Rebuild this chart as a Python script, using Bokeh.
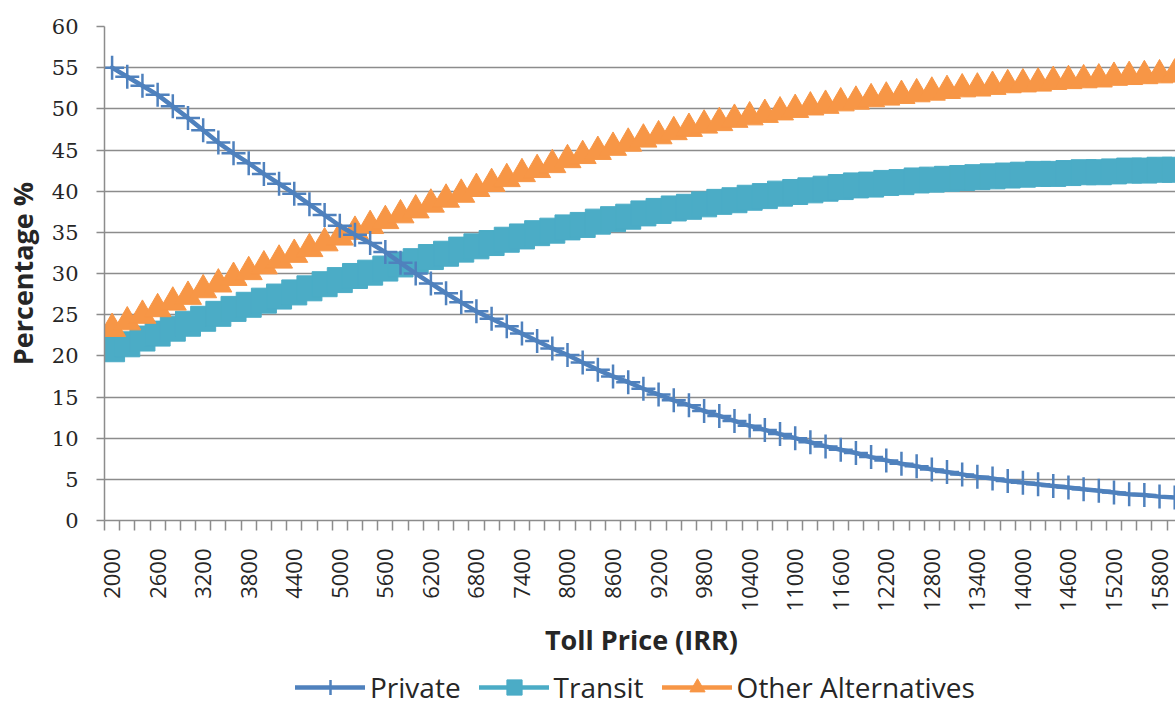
import math

from bokeh.plotting import figure
from bokeh.layouts import column
from bokeh.models import Range1d, FixedTicker, Legend, LegendItem, ColumnDataSource
from bokeh.embed import file_html
from bokeh.resources import INLINE

# Toll price categories (IRR), one every 200
toll_price = list(range(2000, 16001, 200))

# Mode shares (%) for each toll price
private = [
    55.0, 53.9, 52.8, 51.7, 50.3, 48.9, 47.4, 45.9, 44.6, 43.4,
    42.1, 40.9, 39.7, 38.4, 37.1, 35.8, 34.7, 33.7, 32.6, 31.3,
    30.0, 28.8, 27.6, 26.5, 25.4, 24.5, 23.6, 22.7, 21.8, 20.9,
    20.1, 19.2, 18.3, 17.5, 16.8, 16.0, 15.3, 14.6, 14.0, 13.3,
    12.7, 12.1, 11.5, 11.0, 10.5, 10.0, 9.5, 9.0, 8.6, 8.2,
    7.7, 7.3, 6.9, 6.6, 6.2, 5.9, 5.6, 5.3, 5.1, 4.8,
    4.6, 4.4, 4.2, 4.0, 3.8, 3.6, 3.4, 3.2, 3.1, 2.9,
    2.8,
]
transit = [
    20.8, 21.4, 22.1, 22.7, 23.3, 23.9, 24.5, 25.1, 25.7, 26.2,
    26.7, 27.2, 27.7, 28.2, 28.7, 29.2, 29.7, 30.1, 30.6, 31.1,
    31.5, 32.0, 32.4, 32.9, 33.3, 33.7, 34.1, 34.5, 34.9, 35.2,
    35.6, 35.9, 36.3, 36.6, 36.9, 37.3, 37.6, 37.9, 38.1, 38.4,
    38.7, 38.9, 39.2, 39.4, 39.7, 39.9, 40.1, 40.3, 40.5, 40.7,
    40.8, 41.0, 41.1, 41.3, 41.4, 41.5, 41.6, 41.7, 41.8, 41.9,
    42.0, 42.1, 42.1, 42.2, 42.3, 42.3, 42.4, 42.5, 42.5, 42.6,
    42.6,
]
other = [
    23.3, 24.1, 24.9, 25.7, 26.5, 27.2, 28.0, 28.7, 29.5, 30.2,
    30.9, 31.6, 32.3, 33.0, 33.7, 34.4, 35.1, 35.8, 36.4, 37.1,
    37.7, 38.4, 39.0, 39.6, 40.3, 40.9, 41.5, 42.1, 42.6, 43.2,
    43.8, 44.3, 44.8, 45.3, 45.8, 46.3, 46.7, 47.2, 47.6, 48.0,
    48.3, 48.7, 49.0, 49.3, 49.6, 49.9, 50.2, 50.4, 50.7, 50.9,
    51.2, 51.4, 51.6, 51.8, 52.0, 52.2, 52.4, 52.5, 52.7, 52.9,
    53.0, 53.1, 53.3, 53.4, 53.5, 53.6, 53.8, 53.9, 54.0, 54.1,
    54.2,
]
series_names = ["Private", "Transit", "Other Alternatives"]

# Axis ticks
x_label_ticks = list(range(2000, 16000, 600))
x_category_edges = list(range(1900, 16200, 200))
y_ticks = list(range(0, 61, 5))

BLUE = "#4F81BD"
TEAL = "#4BACC6"
ORANGE = "#F79646"
GRID = "#8C8C8C"
TEXT = "#262626"

src = ColumnDataSource(dict(price=toll_price, private=private,
                            transit=transit, other=other))

fig = figure(frame_width=1074, frame_height=494,
             x_range=Range1d(1900, 16050), y_range=Range1d(0, 60),
             output_backend="svg", toolbar_location=None,
             min_border_left=101, min_border_right=0,
             min_border_top=26, min_border_bottom=148,
             outline_line_color=None, background_fill_color="white",
             border_fill_color="white")

# x axis: category boundaries as tick marks, every third category labelled
xax = fig.xaxis[0]
xax.ticker = FixedTicker(ticks=x_label_ticks, minor_ticks=x_category_edges)
xax.major_tick_out = 0
xax.major_tick_in = 0
xax.minor_tick_out = 10
xax.minor_tick_in = 0
xax.minor_tick_line_color = GRID
xax.minor_tick_line_width = 1.5
xax.axis_line_color = GRID
xax.axis_line_width = 1.5
xax.major_label_orientation = math.pi / 2
xax.major_label_text_font = "Open Sans"
xax.major_label_text_font_size = "22px"
xax.major_label_text_color = TEXT
xax.major_label_standoff = 18
xax.axis_label = "Toll Price (IRR)"
xax.axis_label_text_font = "Open Sans"
xax.axis_label_text_font_style = "bold"
xax.axis_label_text_font_size = "27px"
xax.axis_label_text_color = TEXT
xax.axis_label_standoff = 7

yax = fig.yaxis[0]
yax.ticker = FixedTicker(ticks=y_ticks, minor_ticks=[])
yax.major_tick_out = 8
yax.major_tick_in = 0
yax.major_tick_line_color = GRID
yax.major_tick_line_width = 1.5
yax.minor_tick_line_color = None
yax.axis_line_color = GRID
yax.axis_line_width = 1.5
yax.major_label_text_font = "DejaVu Serif"
yax.major_label_text_font_size = "21px"
yax.major_label_text_color = TEXT
yax.major_label_standoff = 18
yax.axis_label = "Percentage %"
yax.axis_label_text_font = "Open Sans"
yax.axis_label_text_font_style = "bold"
yax.axis_label_text_font_size = "27px"
yax.axis_label_text_color = TEXT
yax.axis_label_standoff = 8

fig.xgrid.visible = False
fig.ygrid.ticker = FixedTicker(ticks=y_ticks, minor_ticks=[])
fig.ygrid.grid_line_color = GRID
fig.ygrid.grid_line_width = 1.5

# series
styles = [
    ("private", BLUE, dict(marker="cross", size=24, line_width=2.5)),
    ("transit", TEAL, dict(marker="square", size=25)),
    ("other", ORANGE, dict(marker="triangle", size=27)),
]
draw_order = [1, 2, 0]  # private drawn last, on top
for i in draw_order:
    col, color, mk = styles[i]
    fig.line("price", col, source=src, line_color=color, line_width=4.5,
             line_join="round", line_cap="round")
    fig.scatter("price", col, source=src, fill_color=color, line_color=color, **mk)

# legend strip under the chart; its ranges keep the series themselves out of view
key = figure(width=1175, height=38, output_backend="svg", toolbar_location=None,
             x_axis_type=None, y_axis_type=None, min_border=0,
             outline_line_color=None, background_fill_color="white",
             border_fill_color="white", x_range=Range1d(0, 1), y_range=Range1d(0, 1))
key.xgrid.visible = False
key.ygrid.visible = False
items = []
for name, (col, color, mk) in zip(series_names, styles):
    r_line = key.line("price", col, source=src, line_color=color, line_width=4.5,
                      line_cap="round")
    r_mark = key.scatter("price", col, source=src, fill_color=color,
                         line_color=color, **mk)
    items.append(LegendItem(label=name, renderers=[r_line, r_mark]))

legend = Legend(items=items, orientation="horizontal", location=(191, 0),
                glyph_width=70, glyph_height=38, label_standoff=5, spacing=18,
                padding=0, margin=0, border_line_color=None,
                background_fill_alpha=0,
                label_text_font="Open Sans", label_text_font_size="28px",
                label_text_color=TEXT)
key.add_layout(legend, "center")

p = column(fig, key, spacing=0)

open("out.html", "w").write(file_html(p, INLINE))
